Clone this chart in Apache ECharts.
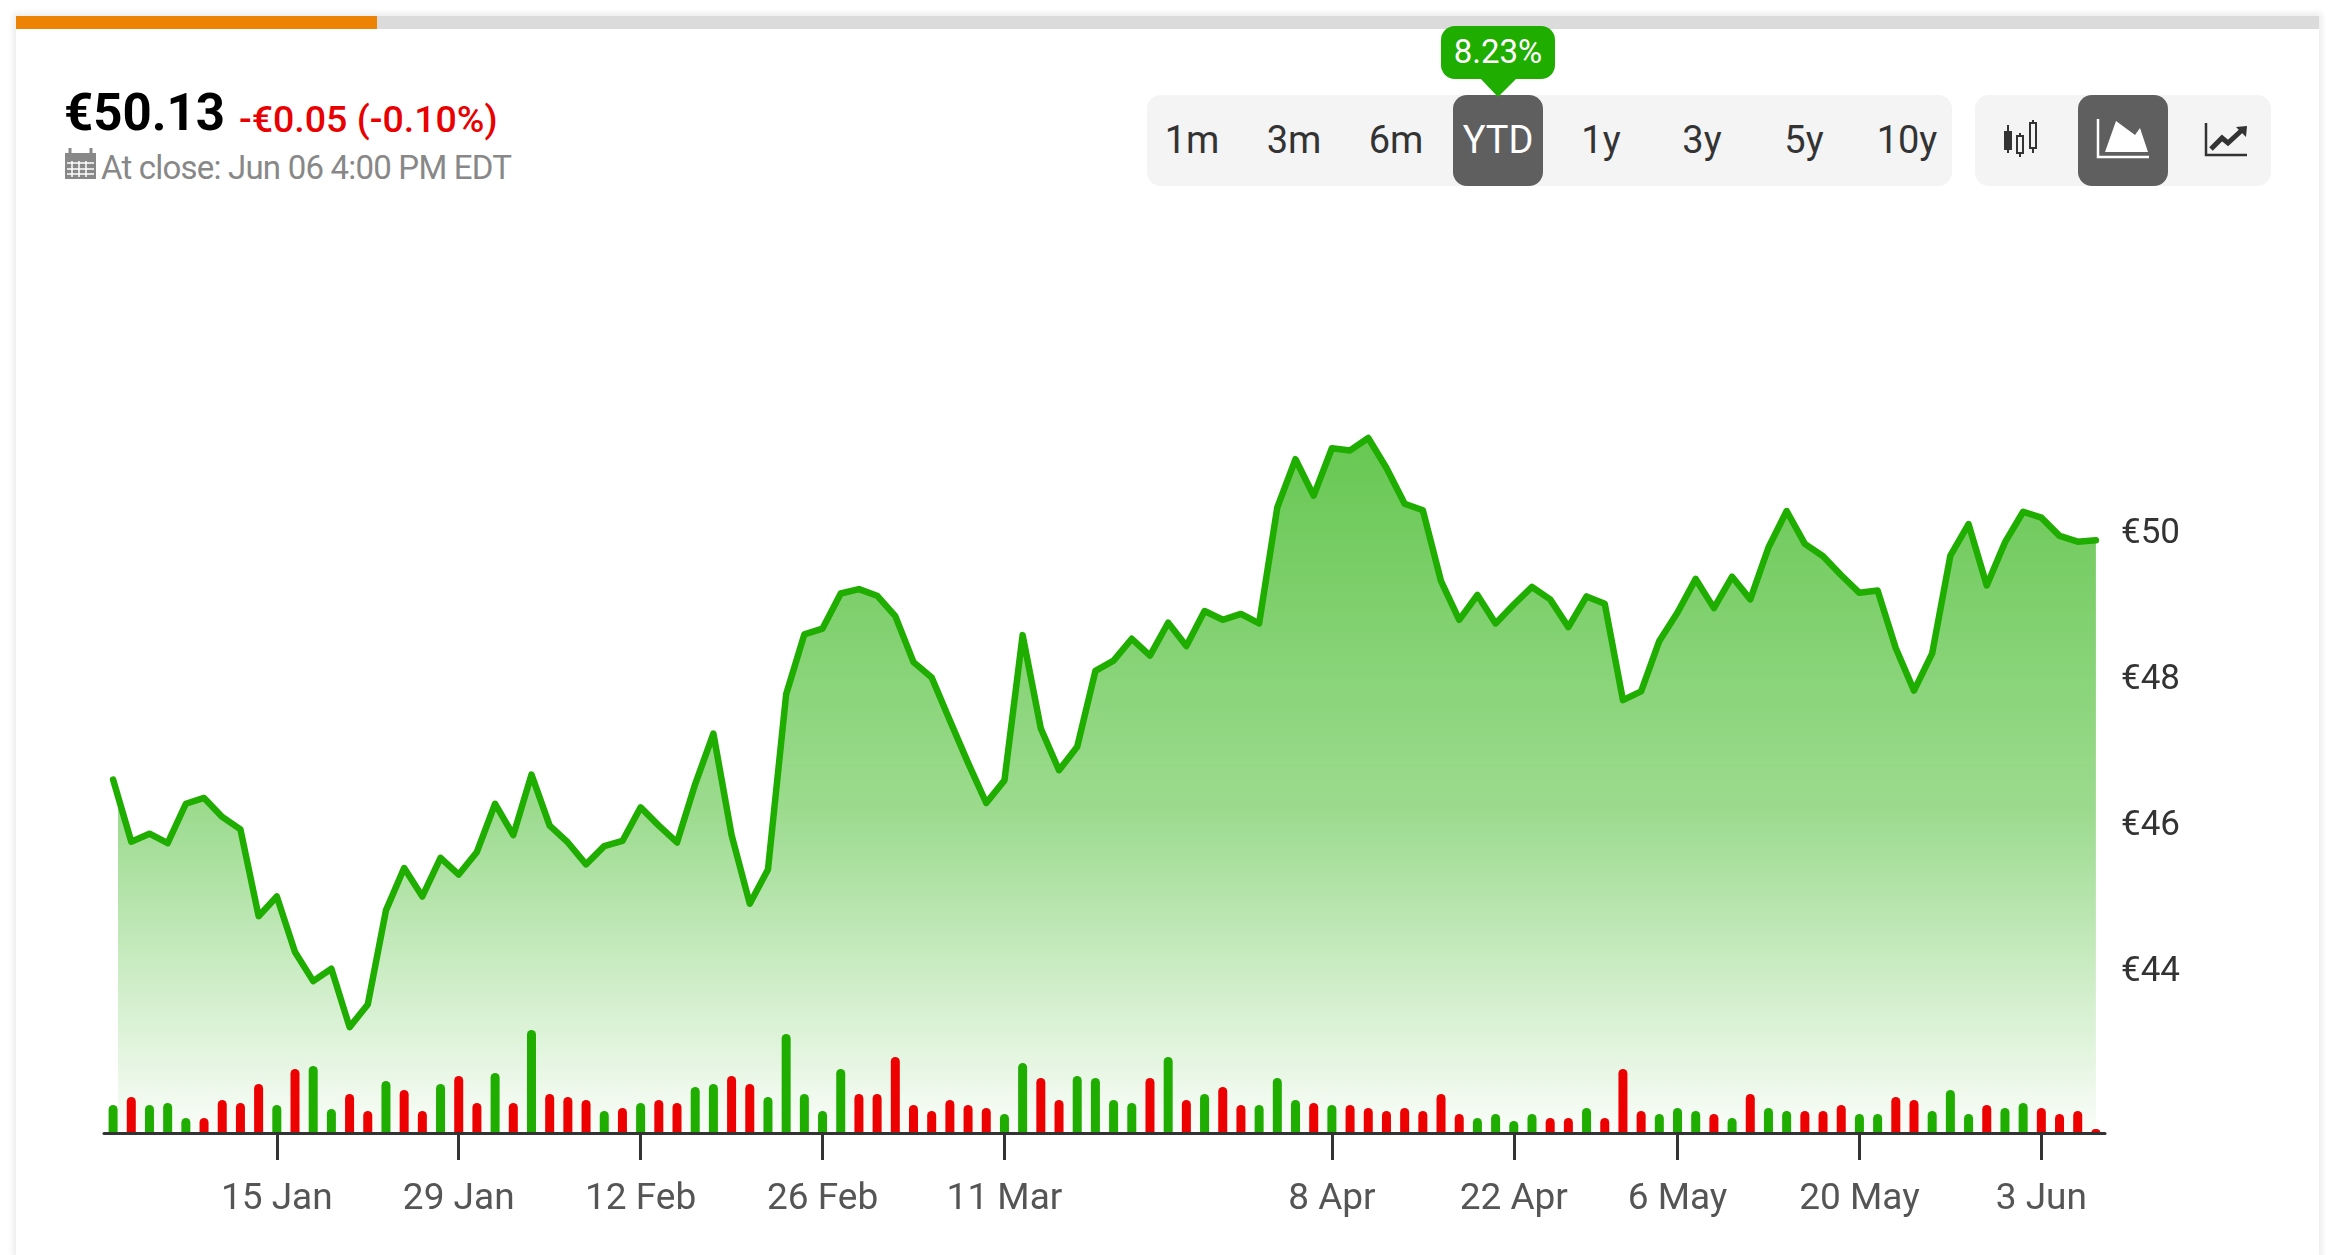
<!DOCTYPE html>
<html>
<head>
<meta charset="utf-8">
<title>YTD price chart</title>
<script src="https://cdn.jsdelivr.net/npm/echarts@6/dist/echarts.min.js"></script>
<style>
    html, body { margin: 0; padding: 0; background: #fff; overflow: hidden; }
    body { width: 2331px; height: 1255px; position: relative; font-family: Roboto, sans-serif; }
    #card { position: absolute; left: 16px; top: 16px; width: 2303px; height: 1239px; background: #fff; box-shadow: 0 0 6px 3px #ececec; }
    #chart { position: absolute; left: 0; top: 0; width: 2331px; height: 1255px; }
    .bar { position: absolute; top: 16px; height: 13px; }
    .txt { position: absolute; white-space: nowrap; }
    #price { left: 64px; top: 83px; line-height: 60px; font-size: 51px; font-weight: 700; color: #000; }
    #change { left: 239px; top: 97px; line-height: 44px; font-size: 37.5px; font-weight: 500; color: #e90000; }
    #close { left: 101px; top: 148px; line-height: 40px; font-size: 33px; color: #888; letter-spacing: -0.8px; }
    .group { position: absolute; top: 95px; height: 91px; background: #f4f4f4; border-radius: 14px; }
    .on { position: absolute; top: 95px; height: 91px; background: #5f5f5f; border-radius: 14px; }
    .btn { position: absolute; top: 95px; width: 102px; height: 91px; line-height: 90px; text-align: center; font-size: 38px; color: #333; }
    #bubble { position: absolute; left: 1441px; top: 26px; width: 114px; height: 53px; line-height: 51px; background: #1fad00; border-radius: 14px; text-align: center; color: #fff; font-size: 33px; }
    svg { position: absolute; left: 0; top: 0; }
</style>
</head>
<body>
<div id="card"></div>
<div class="bar" style="left:16px;width:2303px;background:#dbdbdb"></div>
<div class="bar" style="left:16px;width:361px;background:#ec8304"></div>
<div class="txt" id="price">€50.13</div>
<div class="txt" id="change">-€0.05 (-0.10%)</div>
<div class="txt" id="close">At close: Jun 06 4:00 PM EDT</div>
<div class="group" style="left:1147px;width:805px"></div>
<div class="group" style="left:1975px;width:296px"></div>
<div class="on" style="left:1453px;width:90px"></div>
<div class="on" style="left:2078px;width:90px"></div>
<div class="btn" style="left:1141px">1m</div>
<div class="btn" style="left:1243px">3m</div>
<div class="btn" style="left:1345px">6m</div>
<div class="btn" style="left:1447px;color:#fff">YTD</div>
<div class="btn" style="left:1550px">1y</div>
<div class="btn" style="left:1651px">3y</div>
<div class="btn" style="left:1753px">5y</div>
<div class="btn" style="left:1856px">10y</div>
<div id="bubble">8.23%</div>
<svg width="2331" height="1255">
    <polygon points="1480,78 1517,78 1498,97" fill="#1fad00"/>
    <!-- calendar -->
    <rect x="65" y="153" width="31" height="26" fill="#888"/>
    <path d="M70 148v8M91 148v8" stroke="#888" stroke-width="3"/>
    <path d="M67 163h27M67 169h27M67 174h27M72 161v16M79 161v16M86 161v16" stroke="#fff" stroke-width="1.5"/>
    <!-- candles -->
    <path d="M2008 125v28M2020 133v24M2033 120v33" stroke="#333" stroke-width="2"/>
    <rect x="2004" y="131" width="8" height="19" fill="#333"/>
    <rect x="2017" y="136" width="6" height="17" fill="#f4f4f4" stroke="#333" stroke-width="2"/>
    <rect x="2030" y="123" width="6" height="25" fill="#f4f4f4" stroke="#333" stroke-width="2"/>
    <!-- area -->
    <path d="M2098 119v38h51" fill="none" stroke="#fff" stroke-width="2.5"/>
    <polygon points="2105,152 2116,121 2135,135 2140,128 2148,152" fill="#fff"/>
    <!-- line -->
    <path d="M2206 123v32h41" fill="none" stroke="#333" stroke-width="2.5"/>
    <path d="M2211 149L2222 138L2228 143L2241 131" fill="none" stroke="#333" stroke-width="5"/>
    <polygon points="2236,127 2247,126 2246,137" fill="#333"/>
</svg>
<div id="chart"></div>

<script>
    let dates = [
        '2 Jan', '3 Jan', '4 Jan', '5 Jan', '8 Jan', '9 Jan', '10 Jan', '11 Jan', '12 Jan', '15 Jan',
        '16 Jan', '17 Jan', '18 Jan', '19 Jan', '22 Jan', '23 Jan', '24 Jan', '25 Jan', '26 Jan', '29 Jan',
        '30 Jan', '31 Jan', '1 Feb', '2 Feb', '5 Feb', '6 Feb', '7 Feb', '8 Feb', '9 Feb', '12 Feb',
        '13 Feb', '14 Feb', '15 Feb', '16 Feb', '19 Feb', '20 Feb', '21 Feb', '22 Feb', '23 Feb', '26 Feb',
        '27 Feb', '28 Feb', '29 Feb', '1 Mar', '4 Mar', '5 Mar', '6 Mar', '7 Mar', '8 Mar', '11 Mar',
        '12 Mar', '13 Mar', '14 Mar', '15 Mar', '18 Mar', '19 Mar', '20 Mar', '21 Mar', '22 Mar', '25 Mar',
        '26 Mar', '27 Mar', '28 Mar', '2 Apr', '3 Apr', '4 Apr', '5 Apr', '8 Apr', '9 Apr', '10 Apr',
        '11 Apr', '12 Apr', '15 Apr', '16 Apr', '17 Apr', '18 Apr', '19 Apr', '22 Apr', '23 Apr', '24 Apr',
        '25 Apr', '26 Apr', '29 Apr', '30 Apr', '2 May', '3 May', '6 May', '7 May', '8 May', '9 May',
        '10 May', '13 May', '14 May', '15 May', '16 May', '17 May', '20 May', '21 May', '22 May', '23 May',
        '24 May', '27 May', '28 May', '29 May', '30 May', '31 May', '3 Jun', '4 Jun', '5 Jun', '6 Jun'
    ];
    let tickDates = ['15 Jan', '29 Jan', '12 Feb', '26 Feb', '11 Mar', '8 Apr', '22 Apr', '6 May', '20 May', '3 Jun'];
    let priceTicks = [44, 46, 48, 50];

    let prices = [
        46.58, 45.73, 45.84, 45.71, 46.25, 46.33, 46.07, 45.90, 44.71, 44.98,
        44.22, 43.82, 43.99, 43.19, 43.50, 44.79, 45.37, 44.98, 45.51, 45.28,
        45.59, 46.25, 45.82, 46.65, 45.95, 45.72, 45.42, 45.67, 45.74, 46.20,
        45.95, 45.72, 46.52, 47.21, 45.82, 44.88, 45.35, 47.75, 48.57, 48.65,
        49.13, 49.19, 49.10, 48.82, 48.19, 47.98, 47.39, 46.81, 46.26, 46.57,
        48.56, 47.28, 46.71, 47.03, 48.07, 48.21, 48.51, 48.28, 48.73, 48.41,
        48.89, 48.77, 48.85, 48.72, 50.31, 50.97, 50.47, 51.12, 51.09, 51.26,
        50.85, 50.36, 50.27, 49.30, 48.77, 49.11, 48.72, 48.98, 49.22, 49.05,
        48.67, 49.09, 48.99, 47.67, 47.79, 48.48, 48.87, 49.33, 48.93, 49.36,
        49.05, 49.76, 50.26, 49.81, 49.64, 49.38, 49.14, 49.17, 48.38, 47.80,
        48.31, 49.65, 50.08, 49.24, 49.83, 50.25, 50.17, 49.92, 49.84, 49.86
    ];

    // volume, no scale in the picture so the unit is arbitrary
    let volumes = [
        28, 36, 28, 30, 15, 15, 33, 30, 49, 28,
        64, 67, 24, 39, 22, 52, 43, 22, 49, 57,
        30, 60, 30, 103, 39, 36, 33, 22, 25, 30,
        33, 30, 46, 49, 57, 49, 36, 99, 39, 22,
        64, 39, 39, 76, 28, 22, 33, 28, 25, 19,
        70, 55, 33, 57, 55, 33, 30, 55, 76, 33,
        39, 46, 28, 28, 55, 33, 30, 28, 28, 25,
        22, 25, 22, 39, 19, 15, 19, 12, 19, 15,
        15, 25, 15, 64, 22, 19, 25, 22, 19, 15,
        39, 25, 22, 22, 22, 28, 19, 19, 36, 33,
        22, 43, 19, 28, 25, 30, 25, 19, 22, 4
    ];
    // u = green bar, d = red bar
    let volumeSides = [
        'u', 'd', 'u', 'u', 'u', 'd', 'd', 'd', 'd', 'u',
        'd', 'u', 'u', 'd', 'd', 'u', 'd', 'd', 'u', 'd',
        'd', 'u', 'd', 'u', 'd', 'd', 'd', 'u', 'd', 'u',
        'd', 'd', 'u', 'u', 'd', 'd', 'u', 'u', 'u', 'u',
        'u', 'd', 'd', 'd', 'd', 'd', 'd', 'd', 'd', 'u',
        'u', 'd', 'd', 'u', 'u', 'u', 'u', 'd', 'u', 'd',
        'u', 'd', 'd', 'u', 'u', 'u', 'd', 'u', 'd', 'd',
        'd', 'd', 'd', 'd', 'd', 'u', 'u', 'u', 'u', 'd',
        'd', 'u', 'd', 'd', 'd', 'u', 'u', 'u', 'd', 'u',
        'd', 'u', 'u', 'd', 'd', 'd', 'u', 'u', 'd', 'd',
        'u', 'u', 'u', 'd', 'u', 'u', 'd', 'd', 'd', 'd'
    ];

    const GREEN = '#1fad00';
    const RED = '#ec0000';

    let myChart = echarts.init(document.getElementById('chart'));

    let isTick = (i, name) => tickDates.indexOf(name) !== -1;

    let option = {
        animation: false,
        backgroundColor: 'transparent',
        textStyle: {fontFamily: 'Roboto'},
        grid: {left: 104, top: 384, width: 2001, height: 749},
        xAxis: {
            type: 'category',
            data: dates,
            z: 5,
            axisLine: {lineStyle: {color: '#333', width: 3}},
            axisTick: {
                show: true,
                alignWithLabel: true,
                interval: isTick,
                length: 27,
                lineStyle: {color: '#333', width: 3}
            },
            axisLabel: {
                interval: isTick,
                margin: 48,
                fontSize: 37,
                color: '#555',
                hideOverlap: false
            }
        },
        yAxis: [
            {
                type: 'value',
                position: 'right',
                min: 41.74,
                max: 52,
                splitLine: {show: false},
                axisLine: {show: false},
                axisTick: {show: false},
                axisLabel: {
                    customValues: priceTicks,
                    margin: 16,
                    fontSize: 35,
                    color: '#333',
                    // labels sit a few px under their value in the original
                    verticalAlign: 'top',
                    lineHeight: 9,
                    formatter: v => '€' + v
                }
            },
            {type: 'value', min: 0, max: 749, show: false}
        ],
        graphic: [
            // the fill starts a little right of the first point of the line
            {type: 'rect', z: 2, shape: {x: 104, y: 384, width: 14, height: 747}, style: {fill: '#fff'}}
        ],
        series: [
            {
                type: 'line',
                z: 1,
                data: prices,
                symbol: 'none',
                lineStyle: {width: 0},
                areaStyle: {
                    opacity: 1,
                    color: {
                        type: 'linear', x: 0, y: 0, x2: 0, y2: 1,
                        colorStops: [
                            {offset: 0, color: 'rgba(31,173,0,0.68)'},
                            {offset: 0.54, color: 'rgba(31,173,0,0.44)'},
                            {offset: 0.85, color: 'rgba(31,173,0,0.156)'},
                            {offset: 1, color: 'rgba(31,173,0,0.02)'}
                        ]
                    }
                }
            },
            {
                type: 'bar',
                z: 3,
                yAxisIndex: 1,
                barWidth: 9,
                data: volumes.map((v, i) => ({
                    value: v,
                    itemStyle: {
                        color: volumeSides[i] === 'u' ? GREEN : RED,
                        borderRadius: [4.5, 4.5, 0, 0]
                    }
                }))
            },
            {
                type: 'line',
                z: 4,
                data: prices,
                symbol: 'none',
                lineStyle: {color: GREEN, width: 6.5, cap: 'round', join: 'round'}
            }
        ]
    };

    myChart.setOption(option);
</script>
</body>
</html>
